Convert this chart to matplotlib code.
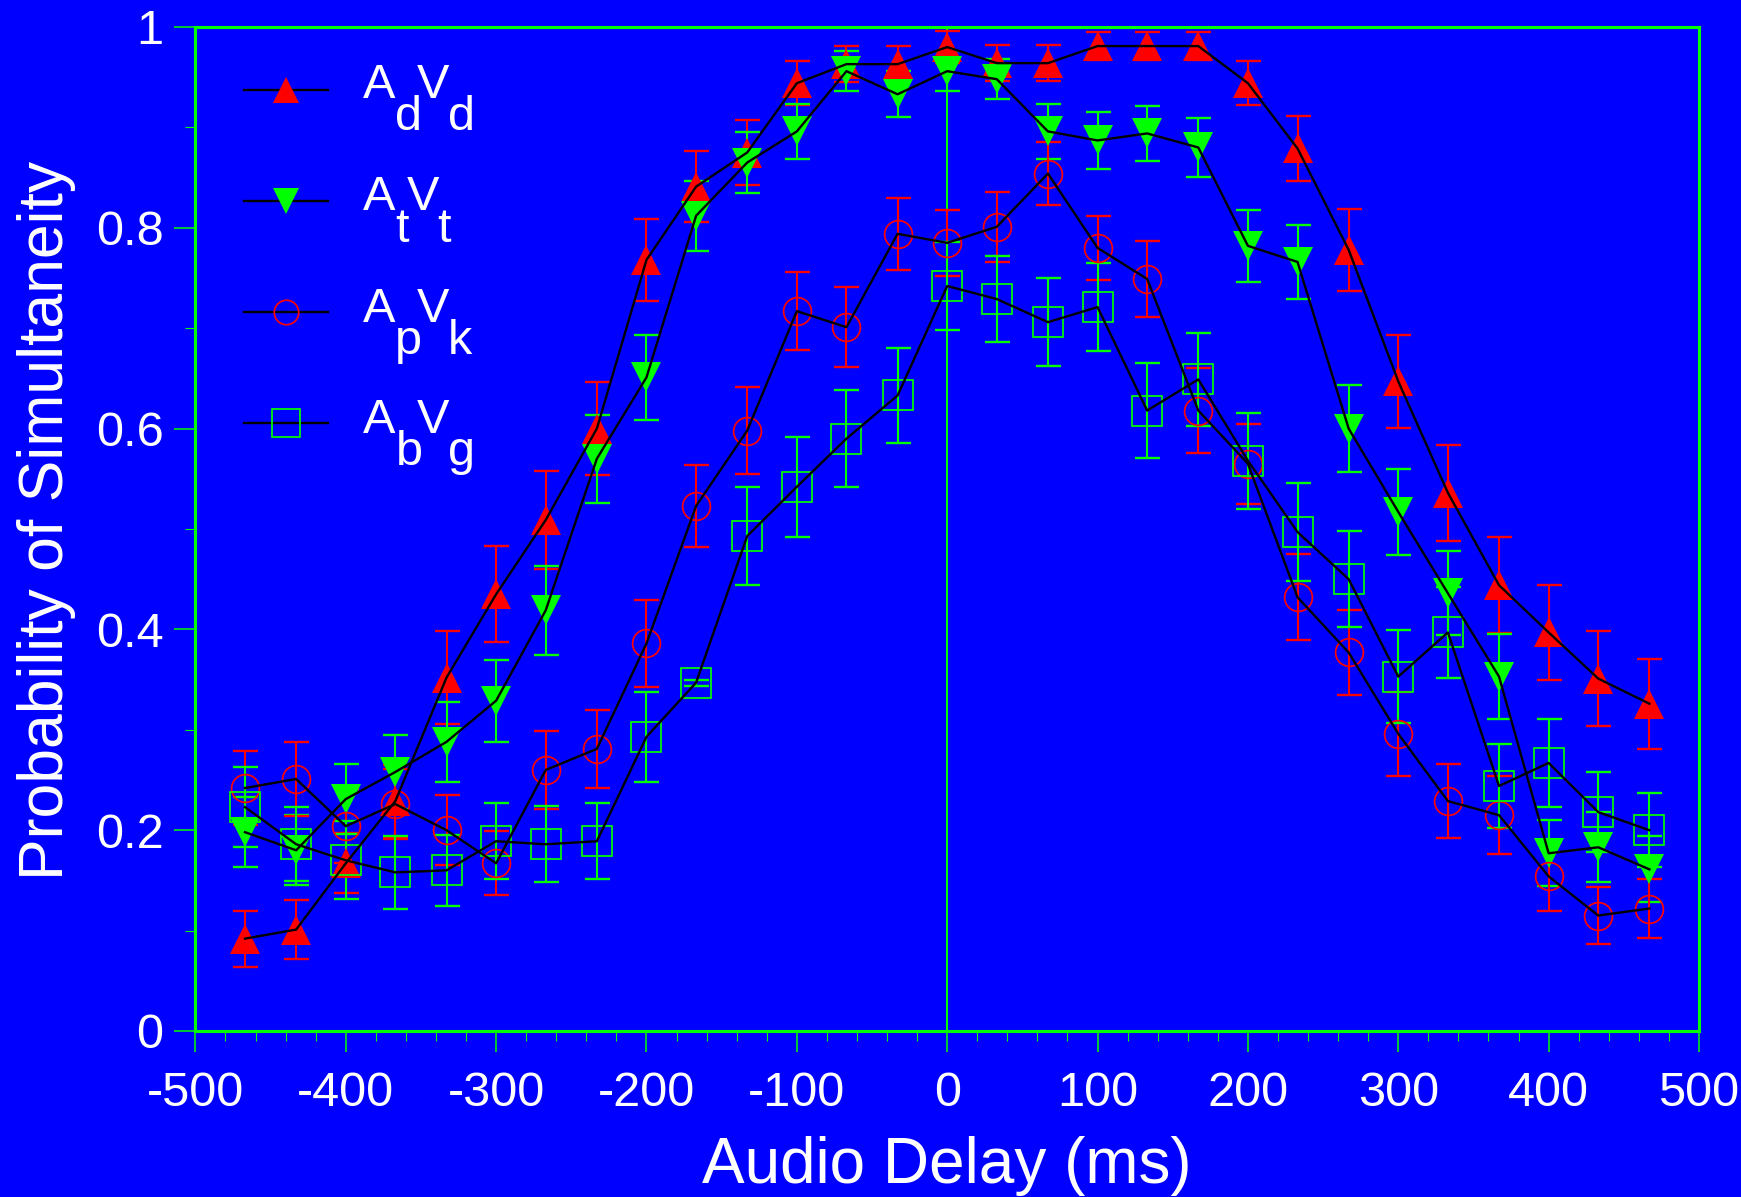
import matplotlib
matplotlib.use("Agg")
import matplotlib.pyplot as plt
from matplotlib.lines import Line2D
from matplotlib.ticker import MultipleLocator

plt.rcParams['font.family'] = ['Liberation Sans', 'DejaVu Sans']
plt.rcParams['axes.unicode_minus'] = False

# ---------------- data ----------------
delay = [-467, -433, -400, -367, -333, -300, -267, -233, -200, -167, -133, -100, -67, -33, 0,
         33, 67, 100, 133, 167, 200, 233, 267, 300, 333, 367, 400, 433, 467]

advd = [0.092, 0.101, 0.167, 0.229, 0.352, 0.435, 0.509, 0.600, 0.768, 0.841, 0.875, 0.944, 0.963, 0.963, 0.980,
        0.964, 0.964, 0.981, 0.981, 0.981, 0.944, 0.879, 0.778, 0.647, 0.536, 0.444, 0.397, 0.351, 0.326]
advd_err = [0.028, 0.029, 0.030, 0.036, 0.046, 0.048, 0.049, 0.046, 0.041, 0.035, 0.032, 0.022, 0.018, 0.018, 0.016,
            0.018, 0.018, 0.014, 0.014, 0.014, 0.022, 0.032, 0.041, 0.046, 0.048, 0.048, 0.047, 0.047, 0.045]

atvt = [0.198, 0.180, 0.231, 0.258, 0.288, 0.329, 0.419, 0.570, 0.651, 0.812, 0.865, 0.896, 0.956, 0.933, 0.956,
        0.948, 0.896, 0.887, 0.894, 0.880, 0.782, 0.766, 0.600, 0.517, 0.436, 0.353, 0.177, 0.183, 0.161]
atvt_err = [0.035, 0.035, 0.035, 0.037, 0.040, 0.041, 0.044, 0.044, 0.042, 0.035, 0.030, 0.027, 0.020, 0.023, 0.020,
            0.020, 0.027, 0.028, 0.027, 0.029, 0.036, 0.037, 0.043, 0.043, 0.042, 0.042, 0.033, 0.035, 0.033]

apvk = [0.242, 0.251, 0.204, 0.226, 0.200, 0.167, 0.260, 0.281, 0.386, 0.523, 0.598, 0.717, 0.701, 0.794, 0.785,
        0.801, 0.854, 0.780, 0.749, 0.618, 0.565, 0.432, 0.377, 0.296, 0.229, 0.215, 0.154, 0.115, 0.122]
apvk_err = [0.037, 0.037, 0.037, 0.035, 0.035, 0.032, 0.039, 0.039, 0.043, 0.041, 0.043, 0.039, 0.040, 0.036, 0.033,
            0.035, 0.031, 0.032, 0.038, 0.042, 0.040, 0.043, 0.042, 0.042, 0.037, 0.039, 0.034, 0.028, 0.029]

abvg = [0.223, 0.186, 0.170, 0.158, 0.160, 0.189, 0.186, 0.189, 0.293, 0.347, 0.493, 0.542, 0.590, 0.633, 0.742,
        0.729, 0.706, 0.721, 0.618, 0.649, 0.568, 0.497, 0.450, 0.353, 0.397, 0.244, 0.267, 0.218, 0.200]
abvg_err = [0.040, 0.037, 0.039, 0.036, 0.035, 0.038, 0.038, 0.038, 0.045, 0.003, 0.049, 0.050, 0.048, 0.047, 0.044,
            0.043, 0.044, 0.044, 0.047, 0.046, 0.048, 0.049, 0.048, 0.046, 0.045, 0.042, 0.044, 0.040, 0.037]

x_ticks = [-500, -400, -300, -200, -100, 0, 100, 200, 300, 400, 500]
x_ticklabels = ['-500', '-400', '-300', '-200', '-100', '0', '100', '200', '300', '400', '500']
y_ticks = [0, 0.2, 0.4, 0.6, 0.8, 1.0]
y_ticklabels = ['0', '0.2', '0.4', '0.6', '0.8', '1']

legend_parts = [('A', 'd', 'V', 'd'), ('A', 't', 'V', 't'), ('A', 'p', 'V', 'k'), ('A', 'b', 'V', 'g')]

# ---------------- style ----------------
BLUE = '#0000FF'
GREEN = '#00FF00'
RED = '#FF0000'

W_PX, H_PX = 1741, 1197
AX_L, AX_R, AX_T, AX_B = 195.4, 1699.0, 27.0, 1031.0

fig = plt.figure(figsize=(W_PX / 100, H_PX / 100), dpi=100, facecolor=BLUE)
ax = fig.add_axes([AX_L / W_PX, 1 - AX_B / H_PX, (AX_R - AX_L) / W_PX, (AX_B - AX_T) / H_PX],
                  facecolor=BLUE)

def fx(px):
    return (px - AX_L) / (AX_R - AX_L)

def fy(py):
    return (AX_B - py) / (AX_B - AX_T)

styles = [
    (advd, advd_err, '^', RED, True, 21.6),
    (atvt, atvt_err, 'v', GREEN, True, 21.6),
    (apvk, apvk_err, 'o', RED, False, 20.0),
    (abvg, abvg_err, 's', GREEN, False, 22.3),
]

for vals, errs, mk, col, filled, ms in styles:
    ax.errorbar(delay, vals, yerr=errs, fmt='none', ecolor=col, elinewidth=1.5,
                capsize=9, capthick=1.7, zorder=2)
    ax.plot(delay, vals, linestyle='none', marker=mk, ms=ms,
            mfc=col if filled else 'none', mec=col, mew=0 if filled else 1.25, zorder=3)
    ax.plot(delay, vals, color='black', lw=1.7, zorder=4)

ax.axvline(0, color=GREEN, lw=1.45, zorder=1)

ax.set_xlim(-500, 500)
ax.set_ylim(0, 1)
ax.set_xticks(x_ticks)
ax.set_xticklabels(x_ticklabels)
ax.set_yticks(y_ticks)
ax.set_yticklabels(y_ticklabels)
ax.xaxis.set_minor_locator(MultipleLocator(20))
ax.yaxis.set_minor_locator(MultipleLocator(0.1))

for sp in ax.spines.values():
    sp.set_color(GREEN)
    sp.set_linewidth(2.2)

ax.tick_params(which='major', direction='out', length=15, width=1.1, color=GREEN,
               labelcolor='white', labelsize=35)
ax.tick_params(axis='x', which='major', pad=13.5)
ax.tick_params(axis='y', which='major', pad=8)
ax.tick_params(which='minor', direction='out', length=7.2, width=0.8, color=GREEN)

ax.set_xlabel('Audio Delay (ms)', color='white', fontsize=46)
ax.xaxis.set_label_coords(0.5, fy(1136))
ax.set_ylabel('Probability of Simultaneity', color='white', fontsize=45)
ax.yaxis.set_label_coords(fx(76), fy(520))

# ---------------- legend ----------------
handles = []
for vals, errs, mk, col, filled, ms in styles:
    handles.append(Line2D([], [], color='black', lw=1.7, marker=mk, ms=ms * 0.88,
                          mfc=col if filled else 'none', mec=col, mew=0 if filled else 1.25))
fs_leg = 20
fs_px = fs_leg * 100 / 72
leg = ax.legend(handles, [''] * 4, loc='upper left', frameon=False, fontsize=fs_leg,
                handlelength=84 / fs_px, handletextpad=0, labelspacing=3.06,
                borderpad=0, borderaxespad=0,
                bbox_to_anchor=(fx(244), fy(79.4)))

row_base = [98, 210, 322, 433]
x_main = [(363, 417), (363, 407), (363, 417), (363, 417)]
x_sub = [(395, 448), (395, 437), (395, 448), (396, 448)]
for i, (a, s1, v, s2) in enumerate(legend_parts):
    b = row_base[i]
    kw = dict(color='white', fontsize=35, ha='left', va='baseline', transform=ax.transAxes)
    ax.text(fx(x_main[i][0]), fy(b), a, **kw)
    ax.text(fx(x_sub[i][0]), fy(b + 32), s1, **kw)
    ax.text(fx(x_main[i][1]), fy(b), v, **kw)
    ax.text(fx(x_sub[i][1]), fy(b + 32), s2, **kw)

fig.savefig('out.png', dpi=100, facecolor=BLUE)
